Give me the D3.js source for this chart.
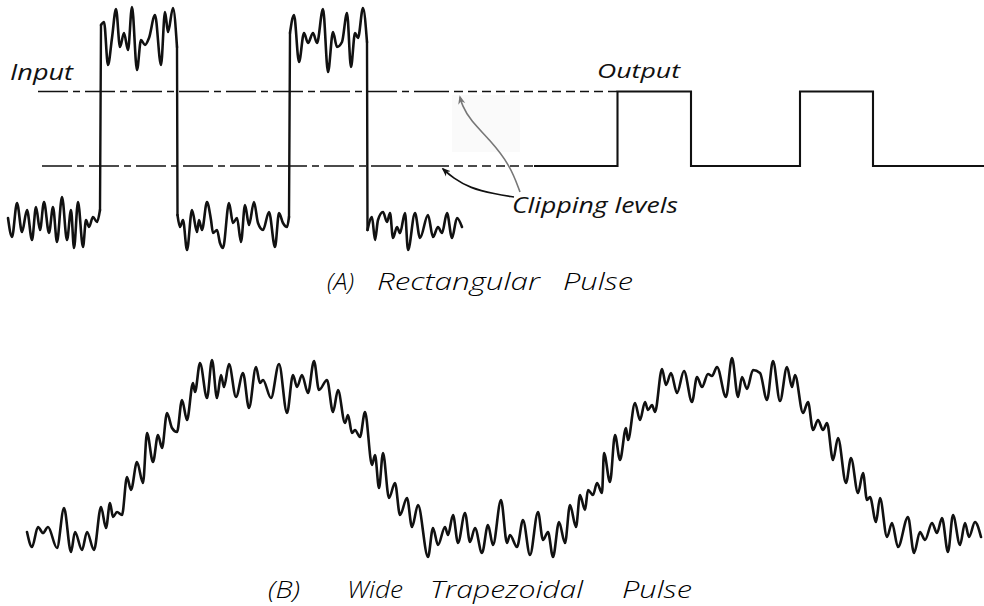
<!DOCTYPE html>
<html>
<head>
<meta charset="utf-8">
<script src="https://cdn.jsdelivr.net/npm/d3@7/dist/d3.min.js"></script>
<style>
  html, body { margin: 0; padding: 0; background: #fff; }
  svg { display: block; }
  text { font-family: "Open Sans", "Lato", "DejaVu Sans", sans-serif; font-style: italic; font-weight: 400; fill: #111; }
  text.title { font-weight: 300; fill: #000; }
</style>
</head>
<body>
<svg id="chart" width="984" height="606"></svg>
<script>
// ---------- DATA (time t, amplitude v) ----------
// Panel A: noisy input, sections between edges
const inputLow1 = [[0.8,3.2],[1.2,1.3],[1.7,4.7],[2.2,1.8],[2.7,4.0],[3.2,1.0],[3.6,4.3],[4.0,2.0],[4.4,4.8],[4.9,1.7],[5.3,4.3],[5.7,0.8],[6.2,5.3],[6.7,1.0],[7.1,4.0],[7.4,0.2],[7.8,4.8],[8.3,0.3],[8.6,3.0],[8.9,2.3],[9.3,3.3],[9.7,2.8],[10.0,4.0]];
const inputHigh1 = [[10.1,22.5],[10.4,22.8],[10.8,18.5],[11.2,21.2],[11.6,24.1],[12.0,20.3],[12.4,21.7],[12.8,20.0],[13.2,24.3],[13.7,18.0],[14.1,21.0],[14.5,20.5],[14.9,21.2],[15.5,23.5],[16.1,18.5],[16.5,23.8],[16.8,21.8],[17.3,24.2],[17.7,20.3]];
const inputLow2 = [[17.75,3.5],[18.0,2.3],[18.3,3.0],[18.7,0.0],[19.2,4.0],[19.7,1.8],[19.9,3.0],[20.2,2.0],[20.7,4.8],[21.1,3.0],[21.3,1.7],[21.7,2.0],[22.0,0.7],[22.3,0.2],[22.9,4.7],[23.3,2.7],[23.7,3.2],[24.1,0.8],[24.5,4.5],[24.9,2.5],[25.4,4.8],[25.8,2.7],[26.3,2.0],[26.9,3.8],[27.5,0.3],[27.9,3.7],[28.3,2.7],[28.7,2.3],[28.9,3.3]];
const inputHigh2 = [[29.0,21.7],[29.4,23.5],[29.9,18.8],[30.4,21.7],[30.8,20.7],[31.3,21.7],[31.7,20.7],[32.3,24.1],[32.8,17.8],[33.3,21.8],[33.7,20.3],[34.2,20.8],[34.7,23.7],[35.1,18.3],[35.5,21.7],[35.8,21.2],[36.3,24.2],[36.7,20.8]];
const inputLow3 = [[36.75,2.0],[37.2,3.3],[37.5,1.0],[37.8,3.0],[38.3,3.8],[38.7,2.8],[39.0,3.7],[39.3,1.2],[39.7,2.3],[40.0,1.7],[40.5,3.7],[40.8,0.0],[41.5,3.7],[42.0,1.2],[42.8,3.5],[43.3,1.3],[43.8,2.3],[44.2,1.7],[44.7,3.7],[45.2,1.2],[45.7,3.2],[46.2,2.3]];

const clipUpper = 15.85;
const clipLower = 8.4;
const clipStartT = [3.8, 4.2];          // upper, lower
const clipFineT = 44.0;                  // where finer dashes begin
const outputT = [53.4, 61.75, 69.1, 80.0, 87.3, 98.4];
const outputV = [clipLower, clipUpper, clipLower, clipUpper, clipLower, clipLower];

const arrowBlack = [[51.4,5.3],[49.5,5.6],[47.0,6.2],[45.3,7.2],[44.3,8.1]];
const arrowGrey = [[52.0,5.8],[51.0,8.5],[49.0,11.0],[47.0,13.0],[46.2,14.5],[46.0,15.3]];

// Panel B: wide trapezoidal pulse with noise
const trapezoid = [[2.7,2.8],[3.2,1.3],[3.8,3.3],[4.3,2.7],[4.8,3.3],[5.7,1.2],[6.4,5.2],[7.1,0.8],[7.5,2.8],[8.2,1.0],[8.7,2.8],[9.4,1.0],[10.1,5.3],[10.6,3.2],[11.0,5.7],[11.3,4.3],[11.7,4.8],[12.2,4.5],[12.7,8.3],[13.1,7.0],[13.7,9.8],[14.3,7.7],[14.7,12.7],[15.3,9.8],[15.8,12.5],[16.2,11.2],[16.7,14.7],[17.2,13.2],[17.7,12.8],[18.2,16.0],[18.7,14.0],[19.3,17.7],[19.5,16.8],
[20.0,19.7],[20.7,16.2],[21.2,20.0],[21.7,16.2],[22.1,18.5],[22.4,17.3],[22.9,19.6],[23.6,16.3],[24.3,18.7],[24.9,15.2],[25.6,19.3],[26.0,17.7],[26.3,18.0],[27.1,16.2],[27.9,19.6],[28.7,14.7],[29.3,18.5],[29.7,17.3],[30.2,18.5],[30.8,16.7],[31.4,19.9],[31.9,17.0],[32.7,18.0],[33.3,14.8],
[33.8,17.0],[34.5,13.7],[34.8,14.5],[35.2,12.7],[35.5,13.0],[36.0,12.3],[36.5,14.8],[37.2,9.5],[37.5,10.5],[37.9,7.2],[38.3,10.7],[38.9,6.2],[39.5,7.7],[40.0,4.5],[40.7,6.2],[41.2,3.3],[41.8,5.5],[42.8,0.3],[43.3,3.2],[43.8,1.5],[44.5,3.3],[44.8,2.5],[45.3,4.5],[45.8,1.7],[46.5,4.7],[47.0,1.8],[47.5,3.2],[48.2,0.7],[48.8,3.5],[49.3,1.5],[50.1,6.0],[50.7,1.7],[51.0,2.5],[51.7,1.3],[52.3,4.0],[53.0,0.5],[53.8,4.8],[54.3,2.0],[54.8,2.8],[55.3,0.3],[55.9,3.8],[56.5,1.7],[57.0,5.5],[57.6,3.3],[58.0,6.5],[58.5,5.0],[58.8,7.0],[59.3,6.5],[59.7,7.7],[60.2,6.7],[60.4,10.7],[61.0,7.8],[61.5,12.5],[62.0,10.0],[62.6,13.2],[62.8,12.0],[63.5,15.7],[64.0,14.0],
[64.5,15.8],[64.8,15.0],[65.2,15.5],[65.5,14.8],[66.2,19.1],[66.6,17.5],[67.1,18.7],[67.7,16.7],[68.4,18.9],[69.2,15.8],[69.7,18.3],[70.2,17.3],[70.8,18.6],[71.2,18.4],[71.7,19.3],[72.6,16.3],[73.2,20.2],[73.8,16.3],[74.2,18.3],[74.7,17.1],[75.3,19.0],[76.0,18.7],[76.7,16.0],[77.3,19.9],[78.0,15.9],[78.7,19.3],[79.2,17.3],[79.5,18.5],[80.3,14.7],[80.8,15.8],
[81.3,13.0],[81.8,14.0],[82.3,13.0],[82.7,13.7],[83.3,10.0],[83.8,12.2],[84.6,7.7],[85.1,10.2],[85.8,6.7],[86.3,8.7],[86.7,6.0],[87.0,6.3],[87.6,3.8],[88.0,6.2],[88.7,2.3],[89.2,3.7],[89.8,1.3],[90.8,4.3],[91.4,0.7],[92.0,2.8],[92.5,2.0],[93.2,3.7],[93.7,2.7],[94.2,4.2],[94.8,0.8],[95.3,4.5],[96.0,1.5],[96.5,3.7],[96.9,2.3],[97.5,3.8],[98.1,2.3]];

const labelInput = "Input";
const labelOutput = "Output";
const labelClip = "Clipping levels";
const titleA = ["(A)", "Rectangular", "Pulse"];
const titleB = ["(B)", "Wide", "Trapezoidal", "Pulse"];

// ---------- SCALES ----------
const W = 984, H = 606;
const x = d3.scaleLinear().domain([0, 98.4]).range([0, W]);
const yA = d3.scaleLinear().domain([0, 25]).range([250, 0]);
const yB = d3.scaleLinear().domain([0, 21]).range([560, 350]);

const svg = d3.select("#chart");
svg.append("rect").attr("width", W).attr("height", H).attr("fill", "#fff");

const defs = svg.append("defs");
function marker(id, color) {
  defs.append("marker").attr("id", id)
    .attr("viewBox", "0 0 10 10").attr("refX", 8).attr("refY", 5)
    .attr("markerWidth", 9).attr("markerHeight", 9)
    .attr("markerUnits", "userSpaceOnUse")
    .attr("orient", "auto")
    .append("path").attr("d", "M0,1 L10,5 L0,9 L3,5 Z").attr("fill", color);
}
marker("arrBlack", "#111");
marker("arrGrey", "#777");

const ink = "#111";
const lineA = d3.line().x(d => x(d[0])).y(d => yA(d[1])).curve(d3.curveMonotoneX);
const lineB = d3.line().x(d => x(d[0])).y(d => yB(d[1])).curve(d3.curveMonotoneX);
const straightA = d3.line().x(d => x(d[0])).y(d => yA(d[1]));

// faint scan smudge behind grey arrow
svg.append("rect")
  .attr("x", x(45.2)).attr("y", yA(15.5))
  .attr("width", x(52.0) - x(45.2)).attr("height", yA(9.8) - yA(15.5))
  .attr("fill", "#fafafa");

// ---------- Panel A: clipping levels (dashed) ----------
const gA = svg.append("g");
[[clipUpper, clipStartT[0], outputT[1]], [clipLower, clipStartT[1], outputT[0]]].forEach(([lv, t0, t1]) => {
  gA.append("path").attr("d", straightA([[t0, lv], [clipFineT, lv]]))
    .attr("fill", "none").attr("stroke", ink).attr("stroke-width", 1.5)
    .attr("stroke-dasharray", "30,5,7,5");
  gA.append("path").attr("d", straightA([[clipFineT, lv], [t1, lv]]))
    .attr("fill", "none").attr("stroke", ink).attr("stroke-width", 1.5)
    .attr("stroke-dasharray", "9,5");
});

// ---------- Panel A: input waveform ----------
const sections = [inputLow1, inputHigh1, inputLow2, inputHigh2, inputLow3];
sections.forEach((sec, i) => {
  gA.append("path").attr("d", lineA(sec))
    .attr("fill", "none").attr("stroke", ink).attr("stroke-width", 2.6)
    .attr("stroke-linejoin", "round").attr("stroke-linecap", "round");
  if (i < sections.length - 1) {
    const a = sec[sec.length - 1], b = sections[i + 1][0];
    gA.append("path").attr("d", straightA([a, b]))
      .attr("fill", "none").attr("stroke", ink).attr("stroke-width", 2.4)
      .attr("stroke-linecap", "round");
  }
});

// ---------- Panel A: output waveform ----------
const outLine = d3.line().x(d => x(d[0])).y(d => yA(d[1])).curve(d3.curveStepAfter);
gA.append("path").attr("d", outLine(outputT.map((t, i) => [t, outputV[i]])))
  .attr("fill", "none").attr("stroke", ink).attr("stroke-width", 2.1)
  .attr("stroke-linejoin", "miter");

// ---------- Arrows ----------
const arrowLine = d3.line().x(d => x(d[0])).y(d => yA(d[1])).curve(d3.curveBasis);
gA.append("path").attr("d", arrowLine(arrowGrey))
  .attr("fill", "none").attr("stroke", "#777").attr("stroke-width", 1.6)
  .attr("marker-end", "url(#arrGrey)");
gA.append("path").attr("d", arrowLine(arrowBlack))
  .attr("fill", "none").attr("stroke", ink).attr("stroke-width", 1.7)
  .attr("marker-end", "url(#arrBlack)");

// ---------- Labels ----------
function label(g, txt, px, py, len, size, cls) {
  g.append("text").attr("class", cls || null).attr("x", px).attr("y", py).attr("font-size", size)
    .attr("textLength", len).attr("lengthAdjust", "spacingAndGlyphs").text(txt);
}
label(gA, labelInput, x(1.0), yA(17.0), 63, 21);
label(gA, labelOutput, x(59.7), yA(17.2), 83, 20);
label(gA, labelClip, x(51.2), yA(3.7), 166, 22);

// titles
const tA = svg.append("g");
[[titleA[0], 327, 27], [titleA[1], 377, 163], [titleA[2], 563, 70]].forEach(([t, px, len]) =>
  label(tA, t, px, 290, len, 24, "title"));
const tB = svg.append("g");
[[titleB[0], 268, 32], [titleB[1], 347, 56], [titleB[2], 430, 153], [titleB[3], 622, 70]].forEach(([t, px, len]) =>
  label(tB, t, px, 598, len, 24, "title"));

// ---------- Panel B ----------
svg.append("path").attr("d", lineB(trapezoid))
  .attr("fill", "none").attr("stroke", ink).attr("stroke-width", 2.6)
  .attr("stroke-linejoin", "round").attr("stroke-linecap", "round");
</script>
</body>
</html>
